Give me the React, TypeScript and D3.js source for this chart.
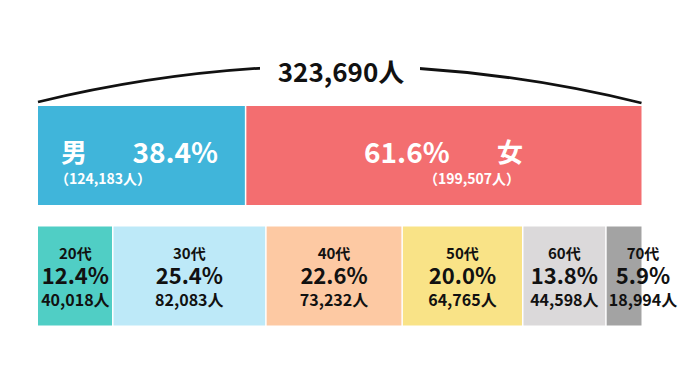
import React from "react";
import * as d3 from "d3";

const totalLabel = "323,690人";
const genderNames = ["男", "女"];
const genderPct = ["38.4%", "61.6%"];
const genderCounts = ["（124,183人）", "（199,507人）"];
const genderBarShare = [34.4, 65.6];
const genderColors = ["#40b5da", "#f36e70"];

const ageNames = ["20代", "30代", "40代", "50代", "60代", "70代"];
const agePct = [12.4, 25.4, 22.6, 20.0, 13.8, 5.9];
const ageCounts = ["40,018人", "82,083人", "73,232人", "64,765人", "44,598人", "18,994人"];
const ageColors = ["#50cec5", "#bde9f8", "#fdc9a3", "#f9e387", "#dbd9da", "#a3a3a3"];

const FONT = "'Noto Sans CJK JP', 'Noto Sans', sans-serif";

export default function App() {
  const W = 680, H = 380;
  const left = 38, right = 641.5;
  const ageTotal = d3.sum(agePct);
  const xAge = d3.scaleLinear().domain([0, ageTotal]).range([left, right]);
  const xGender = d3.scaleLinear().domain([0, d3.sum(genderBarShare)]).range([left, right]);

  const ageCum: number[] = [];
  agePct.reduce((acc, v) => { ageCum.push(acc); return acc + v; }, 0);
  const genderCum: number[] = [];
  genderBarShare.reduce((acc, v) => { genderCum.push(acc); return acc + v; }, 0);

  const topY = 106, topH = 99;
  const botY = 226.5, botH = 99;
  const gap = 0.75;

  const arc = d3.path();
  arc.moveTo(left, 102);
  arc.quadraticCurveTo((left + right) / 2, 29, right, 103);

  return (
    <svg width={W} height={H} style={{ position: "absolute", left: 0, top: 0 }} fontFamily={FONT}>
      <rect width={W} height={H} fill="#fff" />
      <path d={arc.toString()} fill="none" stroke="#111" strokeWidth={2.8} />
      <rect x={260} y={52} width={160} height={34} fill="#fff" />
      <text x={341} y={82} textAnchor="middle" fontSize={26} fontWeight={700} fill="#111">{totalLabel}</text>

      {genderBarShare.map((v, i) => {
        const x0 = xGender(genderCum[i]) + (i > 0 ? gap : 0);
        const x1 = xGender(genderCum[i] + v) - (i < genderBarShare.length - 1 ? gap : 0);
        return <rect key={i} x={x0} y={topY} width={x1 - x0} height={topH} fill={genderColors[i]} />;
      })}
      {/* male labels */}
      <text x={61} y={162} fontSize={26} fontWeight={700} fill="#fff">{genderNames[0]}</text>
      <text x={218} y={163} textAnchor="end" fontSize={28} fontWeight={700} fill="#fff">{genderPct[0]}</text>
      <text x={103} y={184} textAnchor="middle" fontSize={14} fontWeight={700} fill="#fff">{genderCounts[0]}</text>
      {/* female labels */}
      <text x={364} y={163} fontSize={28} fontWeight={700} fill="#fff">{genderPct[1]}</text>
      <text x={497} y={162} fontSize={26} fontWeight={700} fill="#fff">{genderNames[1]}</text>
      <text x={472} y={184} textAnchor="middle" fontSize={14} fontWeight={700} fill="#fff">{genderCounts[1]}</text>

      {agePct.map((v, i) => {
        const x0 = xAge(ageCum[i]) + (i > 0 ? gap : 0);
        const x1 = xAge(ageCum[i] + v) - (i < agePct.length - 1 ? gap : 0);
        const last = i === agePct.length - 1;
        const cx = last ? 643 : (xAge(ageCum[i]) + xAge(ageCum[i] + v)) / 2;
        return (
          <g key={i}>
            <rect x={x0} y={botY} width={x1 - x0} height={botH} fill={ageColors[i]} />
            <text x={cx} y={259} textAnchor="middle" fontSize={15} fontWeight={700} fill="#111">{ageNames[i]}</text>
            <text x={cx} y={284} textAnchor="middle" fontSize={22} fontWeight={700} fill="#111">{v.toFixed(1) + "%"}</text>
            <text x={cx} y={306} textAnchor="middle" fontSize={16} fontWeight={700} fill="#111">{ageCounts[i]}</text>
          </g>
        );
      })}
    </svg>
  );
}
